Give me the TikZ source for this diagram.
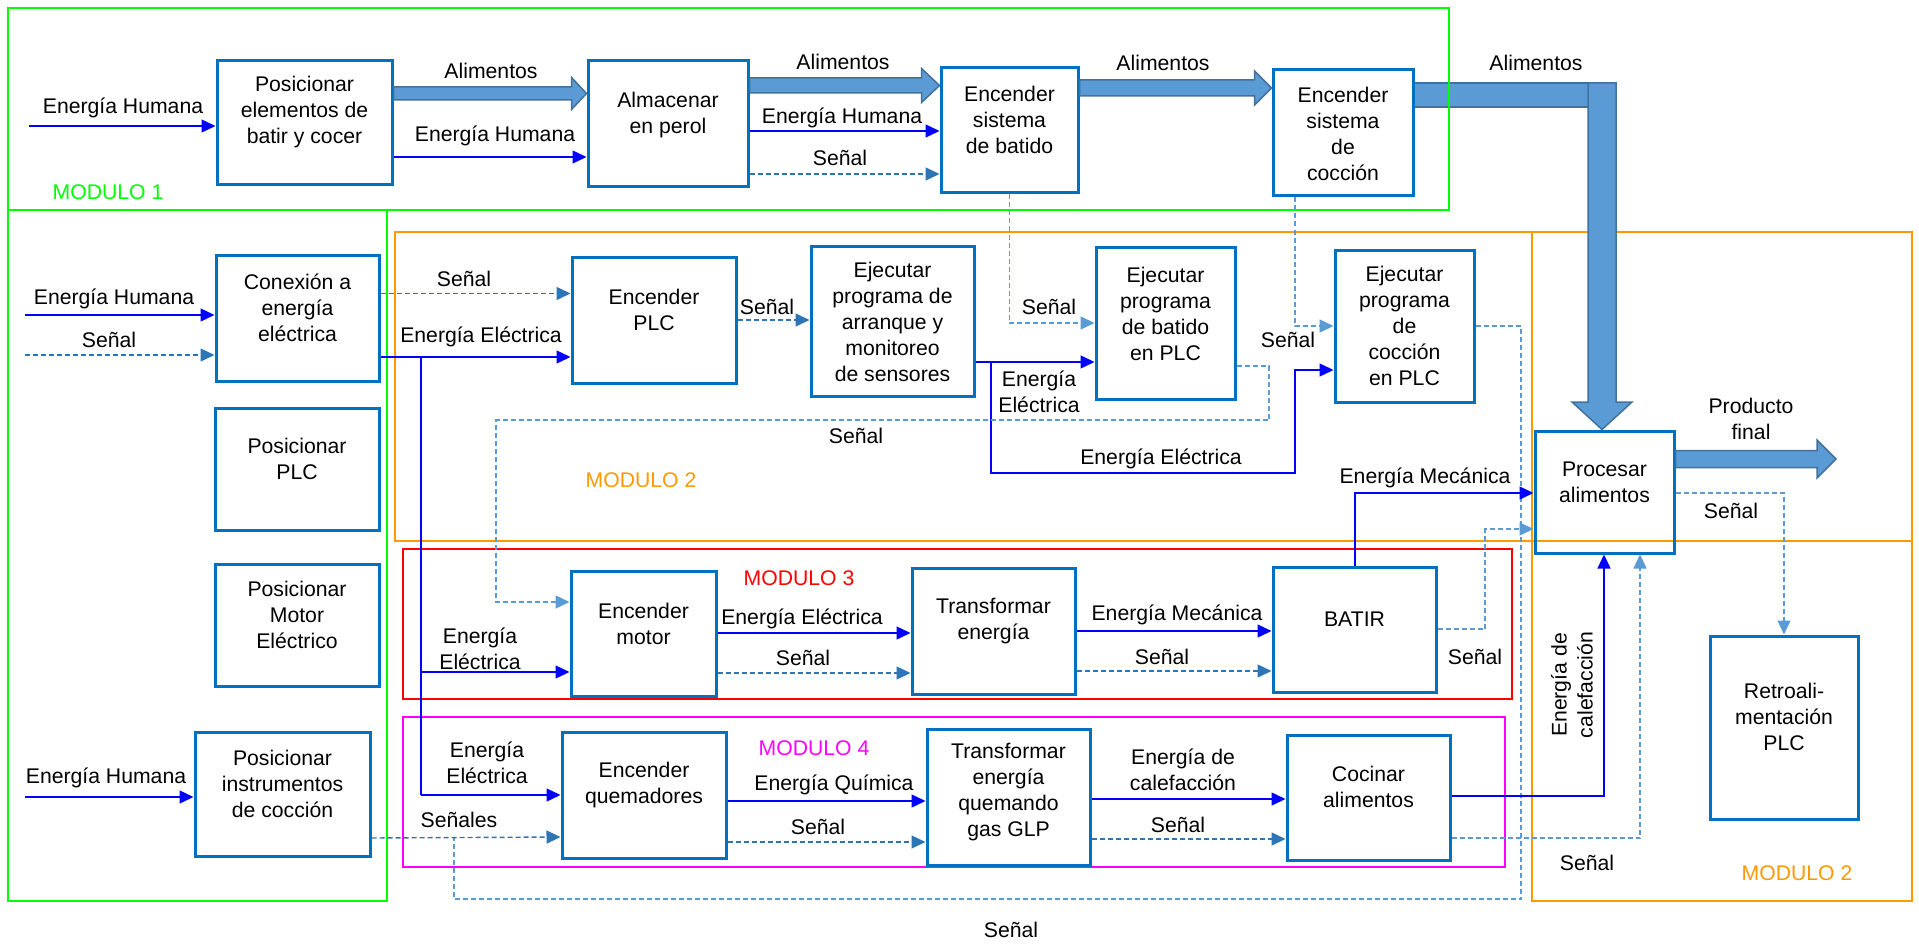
\documentclass[tikz,border=0pt]{standalone}
\usepackage{fontspec}
\setmainfont{Liberation Sans}
\usetikzlibrary{arrows.meta,calc,fit}
\definecolor{boxblue}{HTML}{0070C0}
\definecolor{sig}{HTML}{2E75B6}
\definecolor{sigl}{HTML}{5B9BD5}
\definecolor{fatfill}{HTML}{5B9BD5}
\definecolor{fatdraw}{HTML}{41719C}
\definecolor{mgreen}{HTML}{00FF00}
\definecolor{morange}{HTML}{FF9900}
\definecolor{mred}{HTML}{FF0000}
\definecolor{mmag}{HTML}{FF00FF}
\definecolor{eblue}{HTML}{0000FF}
\newcommand\fatarrow[5]{% #1 start coord, #2 tip coord, #3 half shaft, #4 half head, #5 head length
  \draw[fat] let \p1=(#1), \p2=(#2) in
   (\x1,\y1+#3) -- (\x2-#5,\y1+#3) -- (\x2-#5,\y1+#4) -- (\x2,\y1) --
   (\x2-#5,\y1-#4) -- (\x2-#5,\y1-#3) -- (\x1,\y1-#3) -- cycle;}
\begin{document}
\begin{tikzpicture}[x=1pt,y=-1pt,
  font=\fontsize{21.2}{26}\selectfont,
  box/.style={draw=boxblue,line width=3pt,inner sep=0pt},
  modbox/.style={line width=2.8pt,inner sep=0pt},
  txt/.style={align=center,inner sep=0pt},
  lbl/.style={align=center,inner sep=0pt},
  en/.style={draw=eblue,line width=1.4pt,-{Triangle[length=14pt,width=13pt]}},
  enl/.style={draw=eblue,line width=1.4pt},
  sg/.style={draw=sig,line width=1.4pt,dash pattern=on 5pt off 3pt,-{Triangle[length=14pt,width=13pt]}},
  sgl/.style={draw=sigl,line width=1.4pt,dash pattern=on 5pt off 3pt,-{Triangle[length=14pt,width=13pt]}},
  sglp/.style={draw=sigl,line width=1.4pt,dash pattern=on 5pt off 3pt},
  fat/.style={fill=fatfill,draw=fatdraw,line width=1.5pt,line join=miter}
]
\useasboundingbox (0,0) rectangle (1919,944);

% fat L-arrow horizontal part (under module 1 frame)
\coordinate (f4a) at (1413,95);
\draw[fat] (1413,83) rectangle (1616,107);

% module frames
\node[modbox,draw=mgreen,fit={(8,8) (1449,210)}] (m1a) {};
\node[modbox,draw=mgreen,fit={(8,210) (387,901)}] (m1b) {};
\node[modbox,draw=morange,fit={(395,232) (1912,541)}] (m2a) {};
\node[modbox,draw=morange,fit={(1532,232) (1912,901)}] (m2b) {};
\node[modbox,draw=mred,fit={(403,549) (1512,699)}] (m3) {};
\node[modbox,draw=mmag,fit={(403,717) (1505,867)}] (m4) {};

\node[lbl,text=mgreen] (m1l) at (108,192) {MODULO 1};
\node[lbl,text=morange] (m2l) at (641,480) {MODULO 2};
\node[lbl,text=mred] (m3l) at (799,578) {MODULO 3};
\node[lbl,text=mmag] (m4l) at (814,748) {MODULO 4};
\node[lbl,text=morange] (m2bl) at (1797,873) {MODULO 2};

% boxes
\node[box,fit={(217,61) (392,185)}] (pos1) {};
\node[box,fit={(588,61) (748,187)}] (alm) {};
\node[box,fit={(941,68) (1078,193)}] (sbat) {};
\node[box,fit={(1273,70) (1413,196)}] (scoc) {};
\node[box,fit={(216,255) (379,381)}] (con) {};
\node[box,fit={(215,408) (379,530)}] (pplc) {};
\node[box,fit={(572,257) (736,383)}] (eplc) {};
\node[box,fit={(811,246) (974,396)}] (arr) {};
\node[box,fit={(1096,247) (1235,399)}] (bplc) {};
\node[box,fit={(1335,250) (1474,402)}] (cplc) {};
\node[box,fit={(1535,431) (1674,553)}] (proc) {};
\node[box,fit={(215,564) (379,686)}] (pmot) {};
\node[box,fit={(571,571) (716,696)}] (emot) {};
\node[box,fit={(912,568) (1075,694)}] (trf) {};
\node[box,fit={(1273,567) (1436,692)}] (batir) {};
\node[box,fit={(195,732) (370,856)}] (pins) {};
\node[box,fit={(562,732) (726,858)}] (quem) {};
\node[box,fit={(927,729) (1090,865)}] (glp) {};
\node[box,fit={(1287,735) (1450,860)}] (coc) {};
\node[box,fit={(1710,636) (1858,819)}] (retro) {};

% box texts
\node[txt] (pos1t) at (304.5,112.5) {Posicionar\\elementos de\\batir y cocer};
\node[txt] (almt) at (668,115.5) {Almacenar\\en perol};
\node[txt] (sbatt) at (1009.5,120) {Encender\\sistema\\de batido};
\node[txt] (scoct) at (1343,133.5) {Encender\\sistema\\de\\cocción};
\node[txt] (cont) at (297.5,307.5) {Conexión a\\energía\\eléctrica};
\node[txt] (pplct) at (297,458.5) {Posicionar\\PLC};
\node[txt] (eplct) at (654,310) {Encender\\PLC};
\node[txt] (arrt) at (892.5,322) {Ejecutar\\programa de\\arranque y\\monitoreo\\de sensores};
\node[txt] (bplct) at (1165.5,313.5) {Ejecutar\\programa\\de batido\\en PLC};
\node[txt] (cplct) at (1404.5,325.5) {Ejecutar\\programa\\de\\cocción\\en PLC};
\node[txt] (proct) at (1604.5,482.5) {Procesar\\alimentos};
\node[txt] (pmott) at (297,615) {Posicionar\\Motor\\Eléctrico};
\node[txt] (emott) at (643.5,624) {Encender\\motor};
\node[txt] (trft) at (993.5,621) {Transformar\\energía};
\node[txt] (batirt) at (1354.5,619) {BATIR};
\node[txt] (pinst) at (282.5,784) {Posicionar\\instrumentos\\de cocción};
\node[txt] (quemt) at (644,785.5) {Encender\\quemadores};
\node[txt] (glpt) at (1008.5,792) {Transformar\\energía\\quemando\\gas GLP};
\node[txt] (coct) at (1368.5,786.5) {Cocinar\\alimentos};
\node[txt] (retrot) at (1784,717) {Retroali-\\mentación\\PLC};

% fat arrows
\coordinate (f1a) at (pos1.east |- 0,93.5);
\coordinate (f1b) at (alm.west |- 0,93.5);
\fatarrow{f1a}{f1b}{6.5pt}{16pt}{15pt}
\coordinate (f2a) at (alm.east |- 0,85.5);
\coordinate (f2b) at (sbat.west |- 0,85.5);
\fatarrow{f2a}{f2b}{7.5pt}{17pt}{18pt}
\coordinate (f3a) at (sbat.east |- 0,88);
\coordinate (f3b) at (scoc.west |- 0,88);
\fatarrow{f3a}{f3b}{8pt}{17pt}{17pt}
\draw[fat] (1588,83) -- (1616,83) -- (1616,402) -- (1632,402) -- (1602,0 |- proc.north)
  -- (1572,402) -- (1588,402) -- cycle;
\coordinate (f5a) at (proc.east |- 0,459);
\coordinate (f5b) at (1836,459);
\fatarrow{f5a}{f5b}{8.5pt}{19pt}{19pt}

\node[lbl] (la1) at (491,71) {Alimentos};
\node[lbl] (la2) at (843,62) {Alimentos};
\node[lbl] (la3) at (1163,63) {Alimentos};
\node[lbl] (la4) at (1536,63) {Alimentos};
\node[lbl] (lpf) at (1751,418.5) {Producto\\final};

% module 1 connectors
\coordinate (e1s) at (29,126);
\draw[en] (e1s) -- (e1s -| pos1.west);
\node[lbl] (le1) at (123,108) {Energía Humana};
\draw[en] (pos1.east |- 0,157) -- (alm.west |- 0,157);
\node[lbl] (le2) at (495,136) {Energía Humana};
\draw[en] (alm.east |- 0,131) -- (sbat.west |- 0,131);
\node[lbl] (le3) at (842,118) {Energía Humana};
\draw[sg] (alm.east |- 0,174) -- (sbat.west |- 0,174);
\node[lbl] (ls1) at (840,158) {Señal};

% left inputs
\coordinate (e4s) at (25,315);
\draw[en] (e4s) -- (e4s -| con.west);
\node[lbl] (le4) at (114,299) {Energía Humana};
\coordinate (s2s) at (25,355);
\draw[sg] (s2s) -- (s2s -| con.west);
\node[lbl] (ls2) at (109,340) {Señal};
\coordinate (e16s) at (25,797);
\draw[en] (e16s) -- (e16s -| pins.west);
\node[lbl] (le16) at (106,778) {Energía Humana};

% module 2 connectors
\draw[sg] (con.east |- 0,293.5) -- (eplc.west |- 0,293.5);
\node[lbl] (ls3) at (464,279) {Señal};
\draw[en] (con.east |- 0,357) -- (eplc.west |- 0,357);
\node[lbl] (le5) at (481,337) {Energía Eléctrica};
\coordinate (vtop) at (421,357);
\coordinate (vmot) at (421,672);
\coordinate (vqm) at (421,795);
\draw[enl] (vtop) -- (vqm);
\draw[en] (vmot) -- (vmot -| emot.west);
\draw[en] (vqm) -- (vqm -| quem.west);
\node[lbl] (le6a) at (480,649) {Energía\\Eléctrica};
\node[lbl] (le6b) at (487,763) {Energía\\Eléctrica};

\draw[sg] (eplc.east |- 0,320) -- (arr.west |- 0,320);
\node[lbl] (ls4) at (767,307) {Señal};
\draw[en] (arr.east |- 0,362) -- (bplc.west |- 0,362);
\node[lbl] (le7) at (1039,391.5) {Energía\\Eléctrica};
\coordinate (e8s) at (991,362);
\draw[en] (e8s) -- (991,473) -- (1295,473) -- (1295,370) -- (cplc.west |- 0,370);
\node[lbl] (le8) at (1161,459) {Energía Eléctrica};

\draw[sgl] (sbat.south) -- (sbat.south |- 0,323) -- (bplc.west |- 0,323);
\node[lbl] (ls5) at (1049,307) {Señal};
\draw[sgl] (1295,0 |- scoc.south) -- (1295,326) -- (cplc.west |- 0,326);
\node[lbl] (ls6) at (1288,340) {Señal};

\draw[sgl] (bplc.east |- 0,366) -- (1269,366) -- (1269,420) -- (496,420) -- (496,602) -- (emot.west |- 0,602);
\node[lbl] (ls7) at (856,436) {Señal};
\coordinate (s8e) at (454,838);
\draw[sglp] (cplc.east |- 0,326) -- (1521,326) -- (1521,899) -- (454,899) -- (s8e);
\node[lbl] (ls8) at (1011,930) {Señal};
\draw[sg] (pins.east |- 0,838) -- (quem.west |- 0,837);
\node[lbl] (ls9) at (459,820) {Señales};

% module 3
\draw[en] (emot.east |- 0,633) -- (trf.west |- 0,633);
\node[lbl] (le9) at (802,619) {Energía Eléctrica};
\draw[sg] (emot.east |- 0,673) -- (trf.west |- 0,673);
\node[lbl] (ls10) at (803,658) {Señal};
\draw[en] (trf.east |- 0,631) -- (batir.west |- 0,631);
\node[lbl] (le10) at (1177,615) {Energía Mecánica};
\draw[sg] (trf.east |- 0,671) -- (batir.west |- 0,671);
\node[lbl] (ls11) at (1162,657) {Señal};

% module 4
\draw[en] (quem.east |- 0,801) -- (glp.west |- 0,801);
\node[lbl] (le11) at (834,785) {Energía Química};
\draw[sg] (quem.east |- 0,842) -- (glp.west |- 0,842);
\node[lbl] (ls12) at (818,827) {Señal};
\draw[en] (glp.east |- 0,799) -- (coc.west |- 0,799);
\node[lbl] (le12) at (1183,769.5) {Energía de\\calefacción};
\draw[sg] (glp.east |- 0,839) -- (coc.west |- 0,839);
\node[lbl] (ls13) at (1178,825) {Señal};

% to Procesar
\draw[en] (1355,0 |- batir.north) -- (1355,493) -- (proc.west |- 0,493);
\node[lbl] (le13) at (1425,478) {Energía Mecánica};
\draw[sgl] (batir.east |- 0,629) -- (1485,629) -- (1485,529) -- (proc.west |- 0,529);
\node[lbl] (ls14) at (1475,657) {Señal};
\draw[en] (coc.east |- 0,796) -- (1604,796) -- (1604,0 |- proc.south);
\node[lbl,rotate=90] (le14) at (1572,685) {Energía de\\calefacción};
\draw[sgl] (coc.east |- 0,838) -- (1640,838) -- (1640,0 |- proc.south);
\node[lbl] (ls15) at (1587,863) {Señal};
\draw[sgl] (proc.east |- 0,493) -- (1784,493) -- (retro.north);
\node[lbl] (ls16) at (1731,511) {Señal};
\end{tikzpicture}
\end{document}
